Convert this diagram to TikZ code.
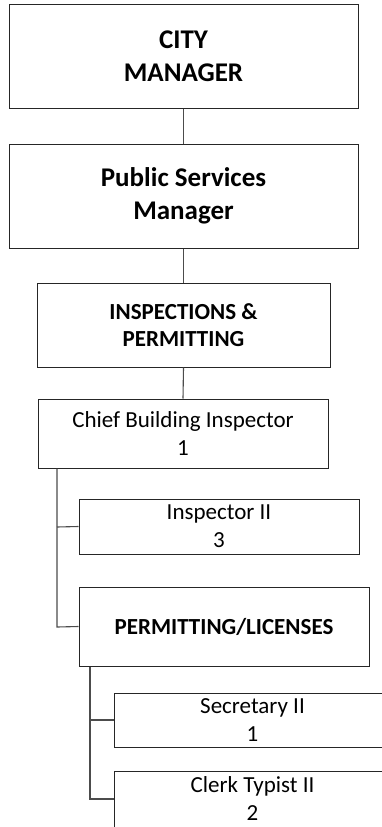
\documentclass[tikz,border=0pt]{standalone}
\usepackage{fontspec}
\setmainfont{Carlito}
\begin{document}
\begin{tikzpicture}[x=1pt,y=-1pt,
  box/.style={draw=black!85, line width=1pt, inner sep=0pt, align=center, fill=white},
  bigbold/.style={font=\bfseries\fontsize{27}{32.5}\selectfont},
  midbold/.style={font=\bfseries\fontsize{23}{27}\selectfont},
  reg/.style={font=\fontsize{23}{28}\selectfont},
  link/.style={draw=black!70, line width=1.1pt}]
\useasboundingbox (0,0) rectangle (382,827);
\clip (0,0) rectangle (382,827);
\fill[white] (0,0) rectangle (382,827);
% connector bend points
\coordinate (v1top) at (57,468);
\coordinate (v1a) at (57,527);
\coordinate (v1b) at (57,627);
\coordinate (v2top) at (90,666);
\coordinate (v2a) at (90,720);
\coordinate (v2b) at (90,799);
% boxes
\node[box, bigbold, minimum width=349pt, minimum height=104pt] (cm) at (183.5,56) {CITY\\MANAGER};
\node[box, bigbold, minimum width=349pt, minimum height=104pt] (psm) at (183.5,196) {Public Services\\Manager};
\node[box, midbold, minimum width=293pt, minimum height=84pt] (ip) at (183.5,325) {INSPECTIONS \&\\PERMITTING};
\node[box, reg, minimum width=290pt, minimum height=69pt] (cbi) at (183,433.5) {Chief Building Inspector\\1};
\node[box, reg, minimum width=280pt, minimum height=55pt] (ins) at (219,526.5) {Inspector II\\3};
\node[box, midbold, minimum width=290pt, minimum height=79pt] (pl) at (224,626.5) {PERMITTING/LICENSES};
\node[box, reg, minimum width=277pt, minimum height=54pt] (sec) at (252.5,720) {Secretary II\\1};
\node[box, minimum width=277pt, minimum height=80pt, anchor=north] (clerk) at (252.5,771) {};
\node[reg, inner sep=0pt, align=center] (clerktext) at (252.5,798.5) {Clerk Typist II\\2};
% links
\draw[link] (cm.south) -- (psm.north);
\draw[link] (psm.south) -- (ip.north);
\draw[link] (ip.south) -- (cbi.north);
\draw[link] (cbi.south -| v1top) -- (v1b) -- (pl.west);
\draw[link] (v1a) -- (ins.west);
\draw[link] (pl.south -| v2top) -- (v2b) -- (v2b -| clerk.west);
\draw[link] (v2a) -- (sec.west);
\end{tikzpicture}
\end{document}
